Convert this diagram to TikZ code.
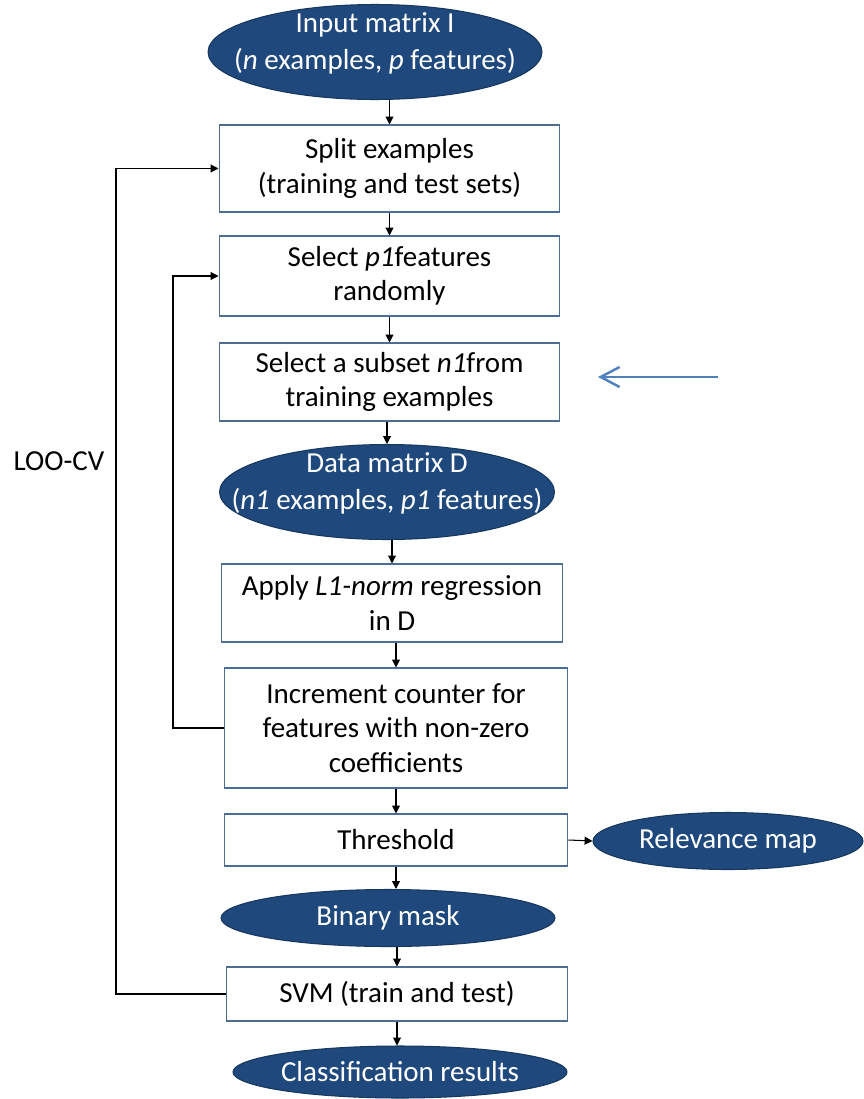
\documentclass[tikz,border=0pt]{standalone}
\usepackage{fontspec}
\setmainfont{Carlito}
\usetikzlibrary{shapes.geometric, arrows.meta, positioning, calc}
\definecolor{ovalColor}{RGB}{31,73,125}
\definecolor{ovalEdge}{RGB}{23,55,94}
\definecolor{boxEdge}{RGB}{79,109,145}
\definecolor{noteColor}{RGB}{79,129,189}
\tikzset{
    stepbox/.style={draw=boxEdge, line width=0.6pt, fill=white, align=center, inner sep=2pt},
    oval/.style={ellipse, draw=ovalEdge, fill=ovalColor, line width=0.6pt},
    ovaltext/.style={text=white, align=center},
    tallovaltext/.style={ovaltext, yshift=5pt, font=\fontsize{16.5}{21}\selectfont},
    arr/.style={-{Triangle[length=4.5pt,width=4.5pt]}, line width=0.6pt}
}

\begin{document}
\begin{tikzpicture}[x=0.02cm, y=-0.02cm, font=\fontsize{16.5}{19.5}\selectfont]
    \useasboundingbox (0,0) rectangle (863,1099);

    % Ovals (data in and out)
    \node[oval, minimum width=6.68cm, minimum height=1.9cm,
        label={[tallovaltext]center:{Input matrix I\\(\textit{n} examples, \textit{p} features)}}] (input) at (375,52) {};
    \node[oval, minimum width=6.7cm, minimum height=1.9cm,
        label={[tallovaltext]center:{Data matrix D\\(\textit{n1} examples, \textit{p1} features)}}] (data) at (387,492) {};
    \node[oval, minimum width=5.4cm, minimum height=1.14cm,
        label={[ovaltext]center:{Relevance map}}] (relev) at (728,841) {};
    \node[oval, minimum width=6.68cm, minimum height=1.14cm,
        label={[ovaltext]center:{Binary mask}}] (binary) at (388,918) {};
    \node[oval, minimum width=6.68cm, minimum height=1.04cm,
        label={[ovaltext]center:{Classification results}}] (class) at (400,1072) {};

    % Process boxes
    \node[stepbox, minimum width=6.82cm, minimum height=1.74cm] (split) at (389.5,168.5) {Split examples\\(training and test sets)};
    \node[stepbox, minimum width=6.82cm, minimum height=1.6cm] (selp1) at (389.5,276) {Select \textit{p1}features\\randomly};
    \node[stepbox, minimum width=6.82cm, minimum height=1.56cm] (subset) at (389.5,382) {Select a subset \textit{n1}from\\training examples};
    \node[stepbox, minimum width=6.84cm, minimum height=1.56cm] (apply) at (392,603) {Apply \textit{L1-norm} regression\\in D};
    \node[stepbox, minimum width=6.88cm, minimum height=2.4cm] (incr) at (396,728) {Increment counter for\\features with non-zero\\coefficients};
    \node[stepbox, minimum width=6.88cm, minimum height=1.04cm] (thresh) at (396,840) {Threshold};
    \node[stepbox, minimum width=6.84cm, minimum height=1.08cm] (svm) at (397,994) {SVM (train and test)};

    \node (loo) at (59,461) {LOO-CV};

    % Main flow
    \foreach \a/\b/\c in {input/split/split, split/selp1/split, selp1/subset/selp1,
        subset/data/data, data/apply/apply, apply/incr/incr, incr/thresh/thresh,
        thresh/binary/thresh, binary/svm/svm, svm/class/svm} {
        \draw[arr] (\a.south -| \c) -- (\b.north -| \c);
    }
    \draw[arr] (thresh.east) -- (relev.west);

    % Loops
    \coordinate (innerx) at (173,0);
    \coordinate (outerx) at (116,0);
    \draw[arr] (incr.west) -- (incr.west -| innerx) |- (selp1.west);
    \draw[arr] (svm.west) -- (svm.west -| outerx) |- (split.west);

    % Side pointer
    \coordinate (notetail) at (718,377);
    \coordinate (notehead) at (598,377);
    \draw[noteColor, line width=1.4pt, -{Straight Barb[length=0.38cm, width=0.4cm]}] (notetail) -- (notehead);

\end{tikzpicture}
\end{document}
